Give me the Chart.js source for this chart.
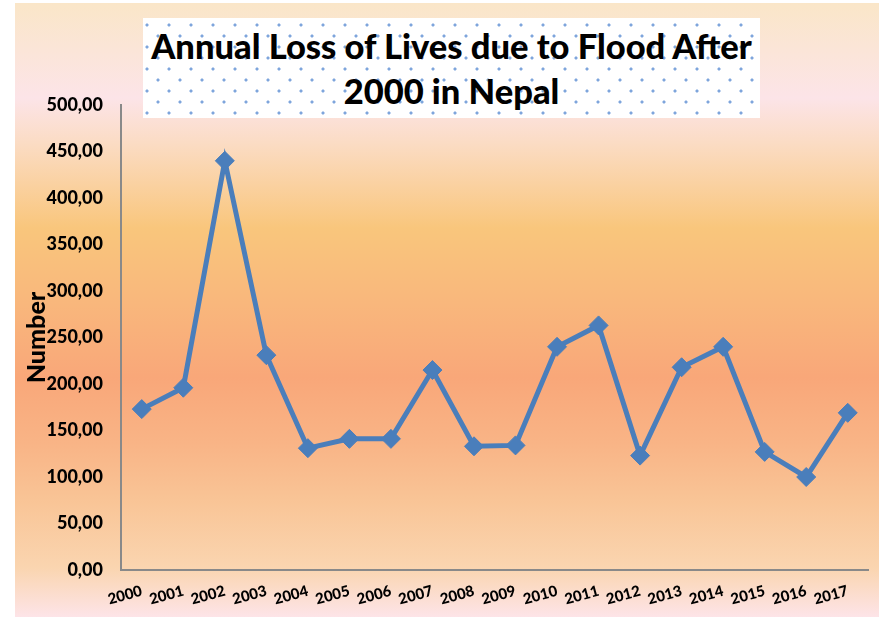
<!DOCTYPE html>
<html>
<head>
<meta charset="utf-8">
<script src="https://cdn.jsdelivr.net/npm/chart.js@4.4.1/dist/chart.umd.min.js"></script>
<style>
  html, body { margin: 0; padding: 0; background: #fff; }
  #wrap { position: relative; width: 879px; height: 617px; overflow: hidden; }
  #bg {
    position: absolute; left: 15px; top: 3px; right: 0; bottom: 0;
    background: linear-gradient(to bottom,
      #fae6c8 0px, #fce4e8 95px, #fbdcc4 140px, #f9c67c 225px,
      #f9b77c 300px, #f9a779 375px, #f9b486 440px, #f9c597 500px,
      #fad5b0 565px, #fde4e8 614px);
  }
  #title {
    position: absolute; left: 143px; top: 18px; width: 617px; height: 100px;
    background-color: #fff;
    background-image:
      radial-gradient(circle, #7ea5dc 1.2px, rgba(126,165,220,0) 1.9px),
      radial-gradient(circle, #7ea5dc 1.2px, rgba(126,165,220,0) 1.9px);
    background-size: 22px 22px;
    background-position: -7px -4px, 4px 7px;
    box-sizing: border-box; padding-top: 5px;
    font-family: Lato, "Open Sans", sans-serif; font-weight: 900;
    font-size: 34.5px; line-height: 45px; text-align: center; color: #000;
    white-space: nowrap;
  }
  canvas { position: absolute; left: 0; top: 0; }
</style>
</head>
<body>
<div id="wrap">
  <div id="bg"></div>
  <canvas id="floodChart" width="879" height="617"></canvas>
  <div id="title">Annual Loss of Lives due to Flood After<br>2000 in Nepal</div>
</div>
<script>
// valores
const years = ['2000', '2001', '2002', '2003', '2004', '2005', '2006', '2007', '2008',
               '2009', '2010', '2011', '2012', '2013', '2014', '2015', '2016', '2017'];
const deaths = [173, 196, 440, 231, 131, 141, 141, 215, 133,
                134, 240, 263, 123, 218, 240, 127, 100, 169];
const yTicks = [0, 50, 100, 150, 200, 250, 300, 350, 400, 450, 500];

const axisColor = '#898989';
const blue = '#4a7ebb';

const ctx = document.getElementById('floodChart').getContext('2d');
new Chart(ctx, {
    type: 'line',
    data: {
        labels: years,
        datasets: [{
            label: 'Number',
            data: deaths,
            borderColor: blue,
            backgroundColor: blue,
            borderWidth: 5,
            tension: 0,
            pointStyle: 'rectRot',
            pointRadius: 9.5,
            pointHoverRadius: 9.5,
            pointBorderWidth: 1,
            pointBorderColor: blue,
            pointBackgroundColor: blue
        }]
    },
    options: {
        responsive: false,
        animation: false,
        layout: { padding: { left: 15, top: 105, right: 5, bottom: 0 } },
        plugins: {
            legend: { display: false },
            title: { display: false },
            tooltip: { enabled: false }
        },
        scales: {
            x: {
                offset: true,
                grid: { display: false },
                border: { display: true, color: axisColor, width: 2 },
                ticks: {
                    autoSkip: false,
                    minRotation: 15,
                    maxRotation: 15,
                    padding: 4,
                    color: '#000',
                    font: { family: 'Lato', weight: 900, size: 15 }
                },
                afterFit: s => { s.height = 47; }
            },
            y: {
                min: 0,
                max: 500,
                afterBuildTicks: s => { s.ticks = yTicks.map(v => ({ value: v })); },
                grid: { display: false },
                border: { display: true, color: axisColor, width: 2 },
                ticks: {
                    padding: 10,
                    color: '#000',
                    font: { family: 'Lato', weight: 900, size: 18 },
                    callback: v => v.toFixed(2).replace('.', ',')
                },
                title: {
                    display: true,
                    text: 'Number',
                    color: '#000',
                    padding: { top: 7, bottom: 0 },
                    font: { family: 'Lato', weight: 900, size: 25 }
                },
                afterFit: s => { s.width = 106; }
            }
        }
    }
});
</script>
</body>
</html>
